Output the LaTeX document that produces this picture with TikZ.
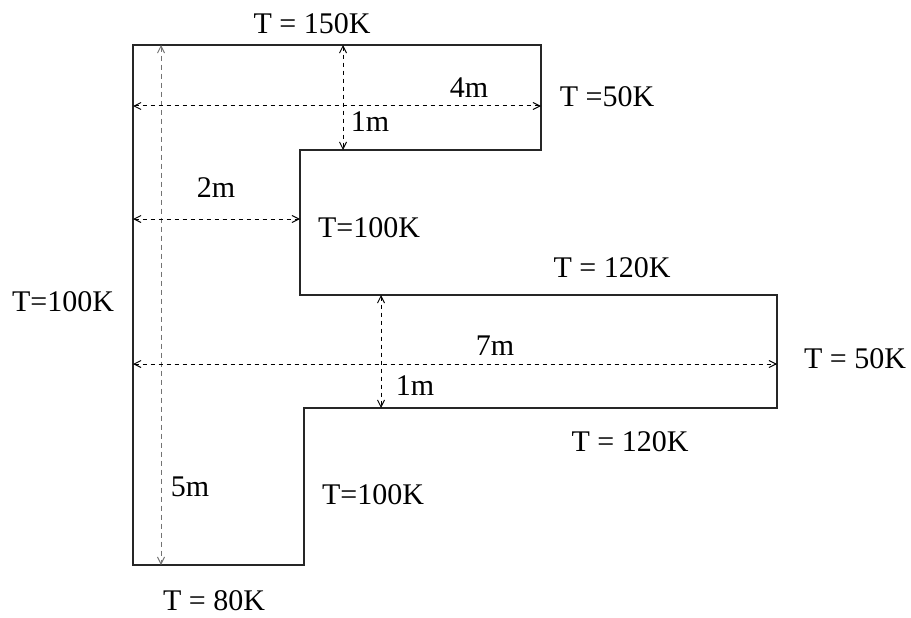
\documentclass[tikz,border=0pt]{standalone}
\usepackage{fontspec}
\setmainfont{Liberation Serif}
\usetikzlibrary{arrows.meta}
\begin{document}
\begin{tikzpicture}[x=1pt,y=-1pt,
  lbl/.style={inner sep=0pt,font=\fontsize{30}{34}\selectfont},
  wall/.style={line width=1.2pt,draw=black!85},
  dim/.style={dash pattern=on 4.5pt off 3.5pt,line width=1pt,{Straight Barb[length=7pt,width=7pt]}-{Straight Barb[length=7pt,width=7pt]}},
  dimg/.style={dim,draw=black!55,dash pattern=on 5pt off 4pt}]
\useasboundingbox (0,0) rectangle (911,618);
% corners
\coordinate (c1) at (133,45);
\coordinate (c2) at (541,45);
\coordinate (c3) at (541,150);
\coordinate (c4) at (300,150);
\coordinate (c5) at (300,295);
\coordinate (c6) at (777,295);
\coordinate (c7) at (777,408);
\coordinate (c8) at (304,408);
\coordinate (c9) at (304,565);
\coordinate (c10) at (133,565);
\draw[wall] (c1) -- (c2) -- (c3) -- (c4) -- (c5) -- (c6) -- (c7) -- (c8) -- (c9) -- (c10) -- cycle;
% dimension end points
\coordinate (v1a) at (161,45);  \coordinate (v1b) at (161,565);
\coordinate (v2a) at (343,45);  \coordinate (v2b) at (343,150);
\coordinate (h1a) at (133,106); \coordinate (h1b) at (541,106);
\coordinate (h2a) at (133,219); \coordinate (h2b) at (300,219);
\coordinate (v3a) at (381,295); \coordinate (v3b) at (381,408);
\coordinate (h3a) at (133,364); \coordinate (h3b) at (777,364);
\draw[dimg] (v1a) -- (v1b);
\draw[dim] (v2a) -- (v2b);
\draw[dim] (h1a) -- (h1b);
\draw[dim] (h2a) -- (h2b);
\draw[dim] (v3a) -- (v3b);
\draw[dim] (h3a) -- (h3b);
% labels
\node[lbl] (t150) at (312,24) {T = 150K};
\node[lbl] (m4) at (469,88) {4m};
\node[lbl] (t50a) at (607,97) {T =50K};
\node[lbl] (m1a) at (370,122) {1m};
\node[lbl] (m2) at (216,188) {2m};
\node[lbl] (t100a) at (369,228) {T=100K};
\node[lbl] (t120a) at (612,268) {T = 120K};
\node[lbl] (t100l) at (63,302) {T=100K};
\node[lbl] (m7) at (495,346) {7m};
\node[lbl] (t50b) at (855,359) {T = 50K};
\node[lbl] (m1b) at (415,386) {1m};
\node[lbl] (t120b) at (630,442) {T = 120K};
\node[lbl] (m5) at (190,487) {5m};
\node[lbl] (t100b) at (373,495) {T=100K};
\node[lbl] (t80) at (214,601) {T = 80K};
\end{tikzpicture}
\end{document}
